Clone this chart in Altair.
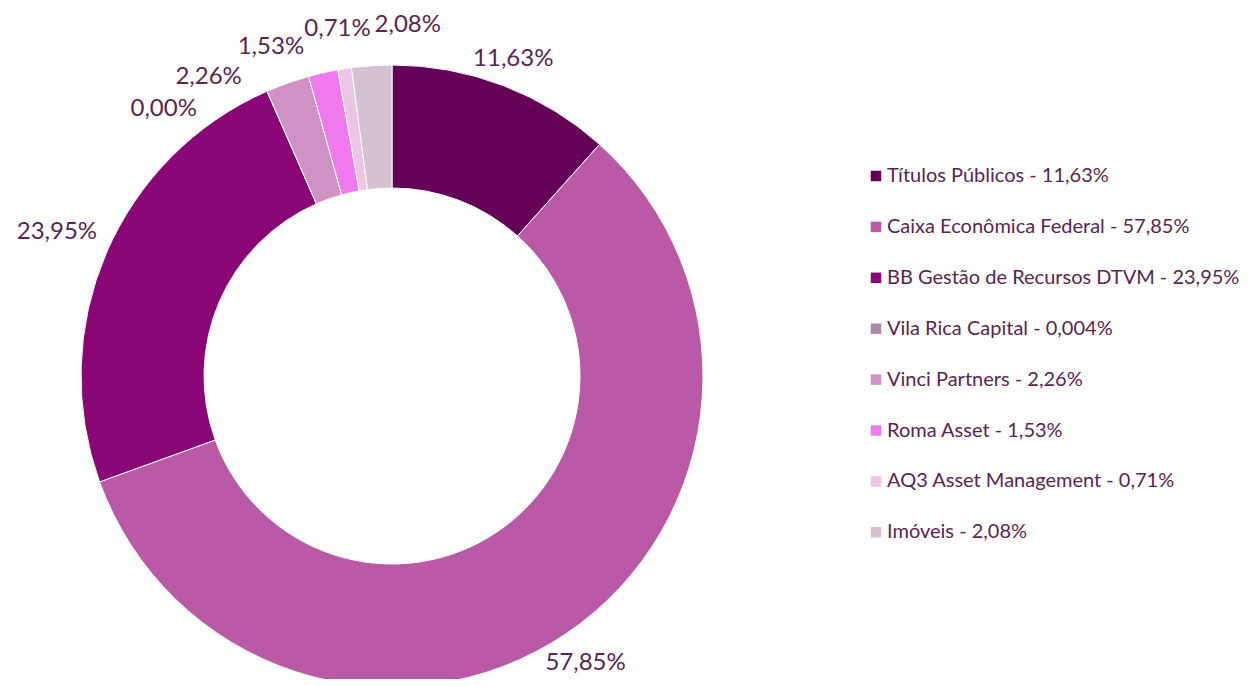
import math
import altair as alt
import pandas as pd

names = ["Títulos Públicos", "Caixa Econômica Federal", "BB Gestão de Recursos DTVM",
         "Vila Rica Capital", "Vinci Partners", "Roma Asset", "AQ3 Asset Management", "Imóveis"]
values = [11.63, 57.85, 23.95, 0.004, 2.26, 1.53, 0.71, 2.08]
colors = ["#640055", "#BA59A6", "#8A0575", "#B087A8", "#D092C5", "#EE7AEE", "#EBC6E4", "#D4C1D2"]

TEXT = "#5B2451"
FONT = "Lato"
LABEL_SIZE = 24
R_OUT, R_IN = 311, 188

def br(v, d):
    return f"{v:.{d}f}".replace(".", ",") + "%"

texts = [br(v, 2) for v in values]
total = sum(values)
starts, ends, acc = [], [], 0.0
for v in values:
    starts.append(acc)
    acc += v
    ends.append(acc)
mid_deg = [(s + e) / 2 / total * 360 for s, e in zip(starts, ends)]

# ---- label layout: base ring for regular labels, outer ring for crowded small slices
def base_radius(deg):
    return 335 + 35 * math.sin(math.radians(deg)) ** 2

ang = list(mid_deg)
rad = [base_radius(a) for a in mid_deg]

RING = 351
small = [i for i, v in enumerate(values) if v < 3]
char_w, line_h = 13.5, 18

def pos(deg, r):
    t = math.radians(deg)
    return r * math.sin(t), -r * math.cos(t)

placed = []
for i in small:
    a = mid_deg[i] if not placed else max(mid_deg[i], placed[-1][1] + 0.5)
    while placed:
        ok = True
        x, y = pos(a, RING)
        for j, b in placed:
            xj, yj = pos(b, RING)
            need_w = (len(texts[i]) + len(texts[j])) / 2 * char_w
            if abs(x - xj) < need_w and abs(y - yj) < line_h:
                ok = False
        if ok:
            break
        a += 0.25
    placed.append((i, a))

shift = sum(mid_deg[i] for i in small) / len(small) - sum(a for _, a in placed) / len(placed) - 6
for i, a in placed:
    ang[i] = a + shift
    rad[i] = RING

df = pd.DataFrame({
    "name": names,
    "value": values,
    "start": starts,
    "end": ends,
    "lab": [a / 360 * total for a in ang],
    "rad": rad,
    "order": list(range(len(names))),
    "legend": [f"{n} - {br(v, 3 if v < 0.01 else 2)}" for n, v in zip(names, values)],
    "text": texts,
})

cx, cy = 384, 368
theta_scale = alt.Scale(domain=[0, total], range=[0, 6.283185307])

arcs = alt.Chart(df).mark_arc(outerRadius=R_OUT, innerRadius=R_IN, stroke="white", strokeWidth=1).encode(
    theta=alt.Theta("start:Q", scale=theta_scale),
    theta2="end:Q",
    x=alt.value(cx),
    y=alt.value(cy),
    color=alt.Color("legend:N",
                    scale=alt.Scale(domain=df["legend"].tolist(), range=colors),
                    sort=df["legend"].tolist(),
                    legend=alt.Legend(title=None, orient="none", legendX=858, legendY=158,
                                      symbolType="square", symbolSize=110, symbolStrokeWidth=0,
                                      labelFont=FONT, labelFontSize=20, labelColor=TEXT,
                                      labelOffset=1, rowPadding=30.9, labelLimit=400)),
    order="order:Q",
)

labels = alt.Chart(df).mark_text(font=FONT, fontSize=LABEL_SIZE, color=TEXT, baseline="middle", align="center").encode(
    theta=alt.Theta("lab:Q", scale=theta_scale),
    radius=alt.Radius("rad:Q", scale=None),
    x=alt.value(cx),
    y=alt.value(cy),
    text="text:N",
)

chart = alt.layer(arcs, labels).properties(
    width=1243, height=671, padding=0,
    autosize=alt.AutoSizeParams(type="none"),
).configure_view(stroke=None)

chart.save("out.html", embed_options={"renderer": "svg", "actions": False})
